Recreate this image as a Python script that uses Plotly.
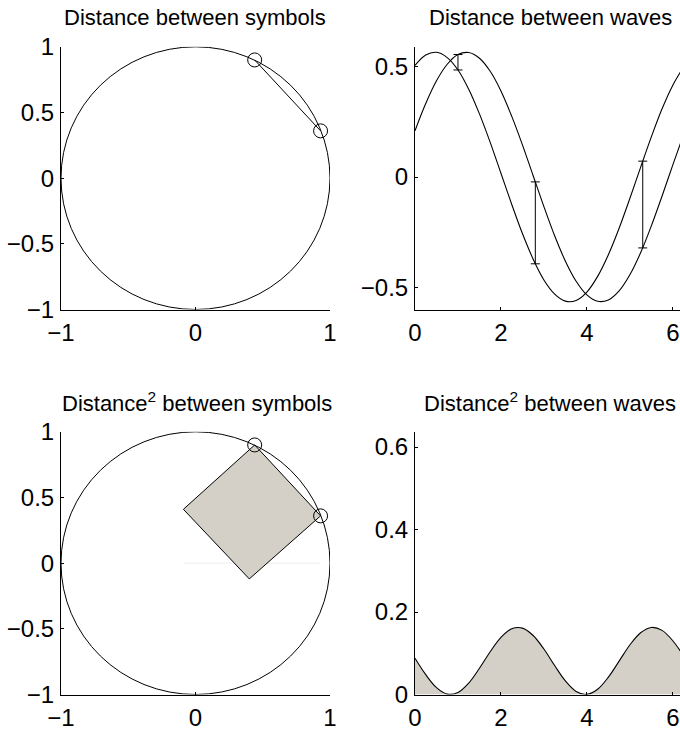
import plotly.graph_objects as go

# ---------------- data ----------------
titles = ["Distance between symbols", "Distance between waves",
          "Distance<sup>2</sup> between symbols", "Distance<sup>2</sup> between waves"]

# two symbols on the unit circle
sym_x = [0.44, 0.93]
sym_y = [0.90, 0.36]
circle_center = (0.0, 0.0)
circle_radius = 1.0

# square built on the distance between the symbols
square_x = [0.44, 0.93, 0.40, -0.09, 0.44]
square_y = [0.90, 0.36, -0.12, 0.41, 0.90]
faint_x = [-0.09, 0.93]
faint_y = [0.0, 0.0]

# waves sampled along t
t = [0.0, 0.25, 0.5, 0.75, 1.0, 1.25, 1.5, 1.75, 2.0, 2.25, 2.5, 2.75, 3.0,
     3.25, 3.5, 3.75, 4.0, 4.25, 4.5, 4.75, 5.0, 5.25, 5.5, 5.75, 6.0, 6.25]
wave1 = [0.506, 0.553, 0.565, 0.541, 0.485, 0.398, 0.286, 0.157, 0.017, -0.123,
         -0.256, -0.372, -0.466, -0.530, -0.562, -0.559, -0.521, -0.450, -0.352,
         -0.232, -0.097, 0.044, 0.182, 0.309, 0.416, 0.498]
wave2 = [0.210, 0.333, 0.436, 0.511, 0.555, 0.564, 0.538, 0.479, 0.390, 0.276,
         0.146, 0.006, -0.134, -0.266, -0.381, -0.472, -0.534, -0.563, -0.557,
         -0.516, -0.443, -0.343, -0.221, -0.086, 0.055, 0.192]
dist2 = [0.0878, 0.0481, 0.0166, 0.0009, 0.0049, 0.0277, 0.0635, 0.1037, 0.1385,
         0.1592, 0.1610, 0.1431, 0.1102, 0.0702, 0.0329, 0.0075, 0.0002, 0.0127,
         0.0421, 0.0809, 0.1201, 0.1496, 0.1625, 0.1555, 0.1303, 0.0932]

# distance markers between the waves
err_x = [1.0, 2.8, 5.3]
err_lo = [0.485, -0.393, -0.321]
err_hi = [0.555, -0.022, 0.072]

# ticks
circ_xticks = [-1, 0, 1]
circ_yticks = [-1, -0.5, 0, 0.5, 1]
wave_xticks = [0, 2, 4, 6]
wave_yticks = [-0.5, 0, 0.5]
d2_yticks = [0, 0.2, 0.4, 0.6]

# ---------------- figure ----------------
W, H = 680, 731
FONT = "Liberation Sans, Arial, Helvetica, sans-serif"
FILL = "#d4d0c8"
INK = "black"
TICK_SIZE = 24
TITLE_SIZE = 22

fig = go.Figure()

def px2fx(p):
    return p / W

def py2fy(p):
    return 1 - p / H

# domains (pixel based)
dom_x_left = [px2fx(61), px2fx(330)]
dom_x_right = [px2fx(415), 1.0]
dom_y_top = [py2fy(309.5), py2fy(46.8)]
dom_y_bot = [py2fy(694.5), py2fy(431.8)]

# --- panel 1 ---
fig.add_shape(type="circle", xref="x", yref="y",
              x0=circle_center[0] - circle_radius, x1=circle_center[0] + circle_radius,
              y0=circle_center[1] - circle_radius, y1=circle_center[1] + circle_radius,
              line=dict(color=INK, width=1))
fig.add_trace(go.Scatter(x=sym_x, y=sym_y, mode="lines+markers", xaxis="x", yaxis="y",
                         line=dict(color=INK, width=1),
                         marker=dict(symbol="circle-open", size=14, color=INK, line=dict(width=1))))

# --- panel 2 ---
fig.add_trace(go.Scatter(x=t, y=wave1, mode="lines", xaxis="x2", yaxis="y2",
                         line=dict(color=INK, width=1.1, shape="spline")))
fig.add_trace(go.Scatter(x=t, y=wave2, mode="lines", xaxis="x2", yaxis="y2",
                         line=dict(color=INK, width=1.1, shape="spline")))
fig.add_trace(go.Scatter(
    x=err_x, y=err_lo, mode="markers", xaxis="x2", yaxis="y2",
    marker=dict(size=1, color="rgba(0,0,0,0)"),
    error_y=dict(type="data", symmetric=False,
                 array=[h - l for h, l in zip(err_hi, err_lo)],
                 arrayminus=[0 for _ in err_lo],
                 color=INK, thickness=1, width=4.5)))

# --- panel 3 ---
fig.add_shape(type="circle", xref="x3", yref="y3",
              x0=circle_center[0] - circle_radius, x1=circle_center[0] + circle_radius,
              y0=circle_center[1] - circle_radius, y1=circle_center[1] + circle_radius,
              line=dict(color=INK, width=1))
fig.add_trace(go.Scatter(x=faint_x, y=faint_y, mode="lines", xaxis="x3", yaxis="y3",
                         line=dict(color="#eeeeee", width=1)))
fig.add_trace(go.Scatter(x=square_x, y=square_y, mode="lines", fill="toself",
                         fillcolor=FILL, xaxis="x3", yaxis="y3",
                         line=dict(color=INK, width=1)))
fig.add_trace(go.Scatter(x=sym_x, y=sym_y, mode="markers", xaxis="x3", yaxis="y3",
                         marker=dict(symbol="circle-open", size=14, color=INK, line=dict(width=1))))

# --- panel 4 ---
fig.add_trace(go.Scatter(x=t, y=dist2, mode="lines", fill="tozeroy", fillcolor=FILL,
                         xaxis="x4", yaxis="y4",
                         line=dict(color=INK, width=1.1, shape="spline")))

axis_common = dict(showline=True, linecolor=INK, linewidth=1, ticks="inside",
                   ticklen=3, tickcolor=INK, tickwidth=1, showgrid=False,
                   zeroline=False, mirror=False, automargin=False,
                   tickfont=dict(family=FONT, size=TICK_SIZE, color=INK), fixedrange=True)

XSTAND = 2
YSTAND = 1

fig.update_layout(
    width=W, height=H, margin=dict(l=0, r=0, t=0, b=0, autoexpand=False),
    paper_bgcolor="white", plot_bgcolor="white", showlegend=False,
    hovermode=False,
    xaxis=dict(domain=dom_x_left, range=[-1, 1], tickvals=circ_xticks, anchor="y",
               ticklabelstandoff=XSTAND, **axis_common),
    yaxis=dict(domain=dom_y_top, range=[-1, 1], tickvals=circ_yticks, anchor="x",
               ticklabelstandoff=YSTAND, **axis_common),
    xaxis2=dict(domain=dom_x_right, range=[0, 6.167], tickvals=wave_xticks, anchor="y2",
                ticklabelstandoff=XSTAND, **axis_common),
    yaxis2=dict(domain=dom_y_top, range=[-0.6, 0.59], tickvals=wave_yticks, anchor="x2",
                ticklabelstandoff=YSTAND, **axis_common),
    xaxis3=dict(domain=dom_x_left, range=[-1, 1], tickvals=circ_xticks, anchor="y3",
                ticklabelstandoff=XSTAND, **axis_common),
    yaxis3=dict(domain=dom_y_bot, range=[-1, 1], tickvals=circ_yticks, anchor="x3",
                ticklabelstandoff=YSTAND, **axis_common),
    xaxis4=dict(domain=dom_x_right, range=[0, 6.167], tickvals=wave_xticks, anchor="y4",
                ticklabelstandoff=XSTAND, **axis_common),
    yaxis4=dict(domain=dom_y_bot, range=[0, 0.637], tickvals=d2_yticks, anchor="x4",
                ticklabelstandoff=YSTAND, **axis_common),
)

title_pos = [(195.5, 17.5), (550, 17.5), (197, 402), (550, 402)]
for txt, (cx, cy) in zip(titles, title_pos):
    fig.add_annotation(text=txt, xref="paper", yref="paper", x=px2fx(cx), y=py2fy(cy),
                       xanchor="center", yanchor="middle", showarrow=False,
                       font=dict(family=FONT, size=TITLE_SIZE, color=INK))

fig.write_html("out.html", config={"displayModeBar": False, "staticPlot": True},
               post_script="document.body.style.margin='0px';document.body.style.overflow='hidden';")
